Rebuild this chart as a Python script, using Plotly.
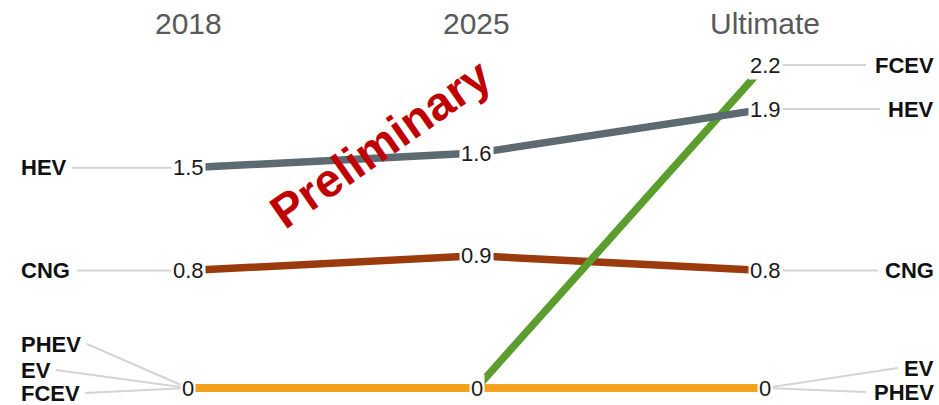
import plotly.graph_objects as go

# ---- data ----
columns = ["2018", "2025", "Ultimate"]
series_names = ["HEV", "CNG", "FCEV", "EV", "PHEV"]
hev = [1.5, 1.6, 1.9]
cng = [0.8, 0.9, 0.8]
fcev = [0, 0, 2.2]
ev = [0, 0, 0]
phev = [0, 0, 0]
values = {"HEV": hev, "CNG": cng, "FCEV": fcev, "EV": ev, "PHEV": phev}
colors = {"HEV": "#5e6a71", "CNG": "#9a3a0d", "FCEV": "#5b9e2d",
          "EV": "#f4a21c", "PHEV": "#f4a21c"}
draw_order = ["CNG", "FCEV", "EV", "PHEV", "HEV"]

# ---- layout (pixel geometry) ----
W, H = 939, 405
X_FIRST, X_LAST = 188, 765
Y_ZERO, Y_TOP, V_TOP = 388, 65, 2.2
sx = (X_LAST - X_FIRST) / (len(columns) - 1)
sy = (Y_ZERO - Y_TOP) / V_TOP


def xd(px):
    return (px - X_FIRST) / sx


def yd(py):
    return (Y_ZERO - py) / sy


FONT = "Liberation Sans, Arial, sans-serif"
LEADER = "#d4d4d4"

# label stacking for coinciding zero values (pixel y)
left_stack = {"PHEV": 344, "EV": 370, "FCEV": 393}
right_stack = {"FCEV": 65, "EV": 368, "PHEV": 392}
left_leader_start = {"HEV": 72, "CNG": 77, "PHEV": 87, "EV": 56, "FCEV": 85}
right_leader_end = {"FCEV": 866, "HEV": 880, "CNG": 878, "EV": 898, "PHEV": 866}

fig = go.Figure()
xs = list(range(len(columns)))

# leader lines
for name in series_names:
    v0 = values[name][0]
    ly = yd(left_stack[name]) if name in left_stack else v0
    fig.add_trace(go.Scatter(x=[xd(left_leader_start[name]), 0], y=[ly, v0],
                             mode="lines", line=dict(color=LEADER, width=2),
                             hoverinfo="skip", showlegend=False))
    v2 = values[name][-1]
    ry = yd(right_stack[name]) if name in right_stack else v2
    fig.add_trace(go.Scatter(x=[xs[-1], xd(right_leader_end[name])], y=[v2, ry],
                             mode="lines", line=dict(color=LEADER, width=2),
                             hoverinfo="skip", showlegend=False))

# series lines
for name in draw_order:
    fig.add_trace(go.Scatter(x=xs, y=values[name], mode="lines",
                             line=dict(color=colors[name], width=7.5),
                             hoverinfo="skip", showlegend=False))

ann = []
# value labels
seen = set()
for name in series_names:
    for i, v in enumerate(values[name]):
        if (i, v) in seen:
            continue
        seen.add((i, v))
        ann.append(dict(x=i, y=v, text=f"{v:g}", showarrow=False,
                        font=dict(family=FONT, size=22, color="#1a1a1a"),
                        bgcolor="white", borderpad=1,
                        xanchor="center", yanchor="middle"))

# series labels
for name in series_names:
    v0 = values[name][0]
    ly = yd(left_stack[name]) if name in left_stack else v0
    ann.append(dict(x=xd(19), y=ly, text=f"<b>{name}</b>", showarrow=False,
                    font=dict(family=FONT, size=22, color="#111111"),
                    xanchor="left", yanchor="middle"))
    v2 = values[name][-1]
    ry = yd(right_stack[name]) if name in right_stack else v2
    ann.append(dict(x=xd(936), y=ry, text=f"<b>{name}</b>", showarrow=False,
                    font=dict(family=FONT, size=22, color="#111111"),
                    xanchor="right", yanchor="middle"))

# column headers
for i, c in enumerate(columns):
    ann.append(dict(x=i, y=yd(23), text=c, showarrow=False,
                    font=dict(family=FONT, size=30, color="#595959"),
                    xanchor="center", yanchor="middle"))

# watermark
ann.append(dict(x=xd(380), y=yd(143), text="<b>Preliminary</b>", showarrow=False,
                textangle=-35, font=dict(family=FONT, size=47, color="#c00000"),
                xanchor="center", yanchor="middle"))

fig.update_layout(
    width=W, height=H, margin=dict(l=0, r=0, t=0, b=0),
    plot_bgcolor="white", paper_bgcolor="white",
    xaxis=dict(range=[xd(0), xd(W)], visible=False, fixedrange=True),
    yaxis=dict(range=[yd(H), yd(0)], visible=False, fixedrange=True),
    annotations=ann, showlegend=False,
)

fig.write_html("out.html")
